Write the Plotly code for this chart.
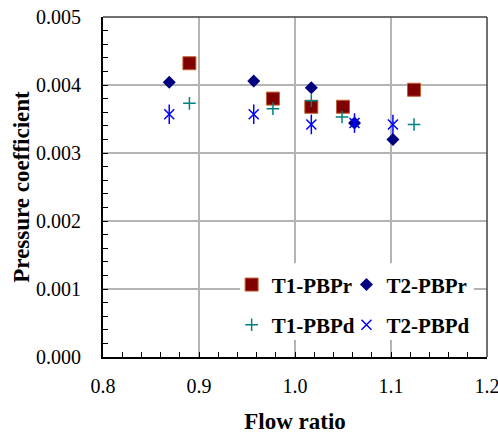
import plotly.graph_objects as go

# Data
t1_pbpr_x = [0.890, 0.977, 1.017, 1.050, 1.124]
t1_pbpr_y = [0.00432, 0.00380, 0.00368, 0.00368, 0.00393]

t2_pbpr_x = [0.869, 0.957, 1.017, 1.062, 1.102]
t2_pbpr_y = [0.00404, 0.00406, 0.00396, 0.00344, 0.00320]

t1_pbpd_x = [0.890, 0.977, 1.017, 1.049, 1.124]
t1_pbpd_y = [0.00373, 0.00365, 0.00377, 0.00353, 0.00342]

t2_pbpd_x = [0.869, 0.957, 1.017, 1.062, 1.102]
t2_pbpd_y = [0.00357, 0.00357, 0.00342, 0.00344, 0.00342]

x_ticks = [0.8, 0.9, 1.0, 1.1, 1.2]
y_ticks = [0.000, 0.001, 0.002, 0.003, 0.004, 0.005]

FONT = "Liberation Serif"

fig = go.Figure()

fig.add_trace(go.Scatter(
    x=t1_pbpr_x, y=t1_pbpr_y, mode="markers", name="<b>T1-PBPr</b>",
    marker=dict(symbol="square", size=13, color="#800000",
                line=dict(color="#c0602a", width=1)),
    legend="legend"))
fig.add_trace(go.Scatter(
    x=t2_pbpr_x, y=t2_pbpr_y, mode="markers", name="<b>T2-PBPr</b>",
    marker=dict(symbol="diamond", size=10, color="#000080",
                line=dict(color="#000080", width=0)),
    legend="legend2"))
fig.add_trace(go.Scatter(
    x=t1_pbpd_x, y=t1_pbpd_y, mode="markers", name="<b>T1-PBPd</b>",
    marker=dict(symbol="cross-thin-open", size=9, color="#008080",
                line=dict(color="#008080", width=1.5)),
    legend="legend3"))
fig.add_trace(go.Scatter(
    x=t2_pbpd_x, y=t2_pbpd_y, mode="markers", name="<b>T2-PBPd</b>",
    marker=dict(symbol="x-thin-open", size=10, color="#0000ff",
                line=dict(color="#0000ff", width=1.5)),
    legend="legend4"))
# vertical stroke of the six-armed asterisk
fig.add_trace(go.Scatter(
    x=t2_pbpd_x, y=t2_pbpd_y, mode="markers", showlegend=False, hoverinfo="skip",
    marker=dict(symbol="line-ns-open", size=14, color="#0000ff",
                line=dict(color="#0000ff", width=1.5))))

axis_common = dict(
    showgrid=True, gridcolor="#b4b4b4", gridwidth=1.5,
    zeroline=False, showline=True, linecolor="black", linewidth=2,
    ticks="inside", ticklen=5, tickcolor="black", tickwidth=1,
    tickfont=dict(family=FONT, size=20, color="black"),
    automargin=False, ticklabeloverflow="allow",
)

fig.update_xaxes(
    range=[0.8, 1.2], tickvals=x_ticks, tickformat=".1f", ticklabelstandoff=10,
    minor=dict(dtick=0.02, ticks="inside", ticklen=5, tickcolor="black", showgrid=False),
    title=dict(text="<b>Flow ratio</b>", font=dict(family=FONT, size=23, color="black"), standoff=17),
    **axis_common)
fig.update_yaxes(
    range=[0, 0.005], tickvals=y_ticks, tickformat=".3f", ticklabelstandoff=16,
    minor=dict(dtick=0.0002, ticks="inside", ticklen=5, tickcolor="black", showgrid=False),
    title=dict(text="<b>Pressure coefficient</b>", font=dict(family=FONT, size=23, color="black"), standoff=0),
    **axis_common)

# top and right frame
fig.add_shape(type="line", xref="paper", yref="paper", x0=0, x1=1, y0=1, y1=1,
              line=dict(color="#404040", width=1.5))
fig.add_shape(type="line", xref="paper", yref="paper", x0=1, x1=1, y0=0, y1=1,
              line=dict(color="#404040", width=1.5))
# white legend box hiding the grid behind the legend
fig.add_shape(type="rect", xref="paper", yref="paper", x0=0.357, x1=0.966, y0=0.05, y1=0.276,
              fillcolor="white", line=dict(width=0), layer="above")

legend_common = dict(
    orientation="v", bgcolor="rgba(0,0,0,0)", borderwidth=0,
    font=dict(family=FONT, size=21, color="black"),
    itemwidth=30, xanchor="left", yanchor="middle",
)

fig.update_layout(
    width=498, height=434,
    margin=dict(l=103, r=11, t=17, b=77),
    plot_bgcolor="white", paper_bgcolor="white",
    showlegend=True,
    legend=dict(x=0.335, y=0.212, **legend_common),
    legend2=dict(x=0.634, y=0.212, **legend_common),
    legend3=dict(x=0.335, y=0.094, **legend_common),
    legend4=dict(x=0.634, y=0.094, **legend_common),
)

# remove the default 8px page margin so the figure sits at the window origin
fig.write_html("out.html", config={"displayModeBar": False},
               post_script="document.body.style.margin='0';document.body.style.overflow='hidden';")
